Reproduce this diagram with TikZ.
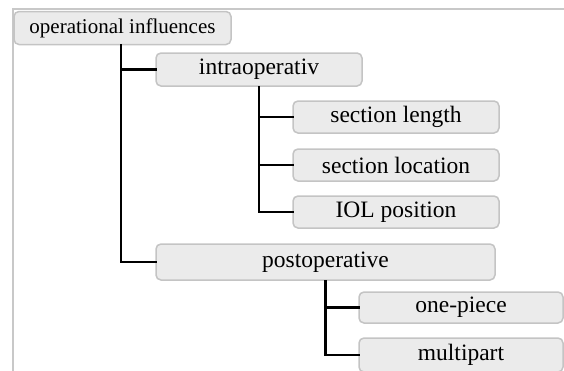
\documentclass[tikz,border=0pt]{standalone}
\usepackage{fontspec}
\setmainfont{Liberation Serif}
\definecolor{boxfill}{HTML}{EBEBEB}
\definecolor{boxline}{HTML}{C4C4C4}
\definecolor{frameline}{HTML}{C8C8C8}
\begin{document}
\begin{tikzpicture}[x=1pt,y=-1pt,
  box/.style={draw=boxline, fill=boxfill, line width=1.5pt, rounded corners=5pt,
    inner sep=0pt, font=\fontsize{23.5}{26}\selectfont, text=black},
  rootbox/.style={box, font=\fontsize{21}{24}\selectfont},
  link/.style={draw=black, line width=2.5pt, line cap=rect}]
\useasboundingbox (0,0) rectangle (564,370);
\clip (0,0) rectangle (564,370);
\draw[frameline, line width=2pt] (12.5,371) -- (12.5,9) -- (566,9);
\node[rootbox, minimum width=217, minimum height=33] (root) at (122.5,28) {operational influences};
\node[box, minimum width=206, minimum height=33] (intra) at (259,69.5) {intraoperativ};
\node[box, minimum width=206, minimum height=32] (slen) at (396,117) {section length};
\node[box, minimum width=206, minimum height=32] (sloc) at (396,165) {section location};
\node[box, minimum width=206, minimum height=32] (iol) at (396,212) {IOL position};
\node[box, minimum width=339, minimum height=36] (post) at (325.5,262) {postoperative};
\node[box, minimum width=204, minimum height=31] (one) at (461,307.5) {one-piece};
\node[box, minimum width=204, minimum height=34] (multi) at (461,355) {multipart};
\draw[link] ([xshift=-1.5pt]root.south) |- (intra.west);
\draw[link] ([xshift=-1.5pt]root.south) |- (post.west);
\draw[link] (intra.south) |- (slen.west);
\draw[link] (intra.south) |- (sloc.west);
\draw[link] (intra.south) |- (iol.west);
\draw[link] (post.south) |- (one.west);
\draw[link] (post.south) |- (multi.west);
\end{tikzpicture}
\end{document}
